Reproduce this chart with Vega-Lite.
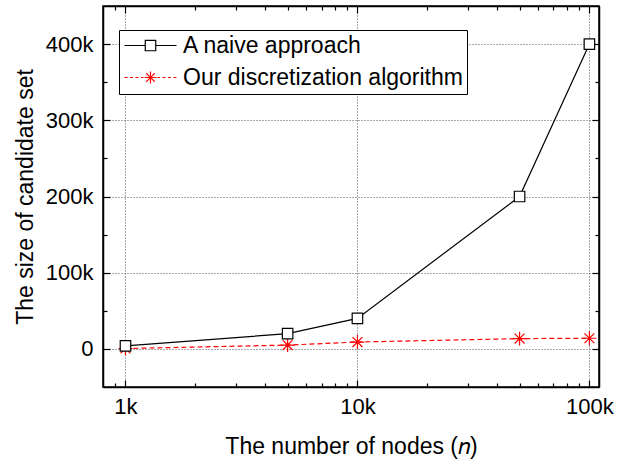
{
  "$schema": "https://vega.github.io/schema/vega-lite/v6.json",
  "width": 496,
  "height": 381,
  "autosize": {"type": "none"},
  "padding": {"left": 103, "top": 6, "right": 24, "bottom": 73},
  "config": {
    "font": "Liberation Sans",
    "view": {"stroke": "black", "strokeWidth": 1.5},
    "axis": {
      "domainColor": "black",
      "domainWidth": 1.5,
      "tickColor": "black",
      "tickWidth": 1.2,
      "labelColor": "black",
      "labelFont": "Liberation Sans",
      "labelFontSize": 22,
      "titleColor": "black",
      "titleFont": "Liberation Sans",
      "titleFontSize": 23,
      "titleFontWeight": "normal",
      "gridColor": "#555555",
      "gridDash": [1, 2],
      "gridWidth": 1
    }
  },
  "data": {
    "values": [
      {"series": "Our discretization algorithm", "n": 1000, "size": 500},
      {"series": "Our discretization algorithm", "n": 5000, "size": 5000},
      {"series": "Our discretization algorithm", "n": 10000, "size": 9000},
      {"series": "Our discretization algorithm", "n": 50000, "size": 13500},
      {"series": "Our discretization algorithm", "n": 100000, "size": 14000},
      {"series": "A naive approach", "n": 1000, "size": 4000},
      {"series": "A naive approach", "n": 5000, "size": 20000},
      {"series": "A naive approach", "n": 10000, "size": 40000},
      {"series": "A naive approach", "n": 50000, "size": 200000},
      {"series": "A naive approach", "n": 100000, "size": 400000}
    ]
  },
  "layer": [
    {
      "transform": [{"filter": "datum.series == 'A naive approach'"}],
      "mark": {"type": "line", "strokeWidth": 1.2},
      "encoding": {
        "x": {
          "field": "n",
          "type": "quantitative",
          "scale": {"type": "log", "domain": [800, 110000], "nice": false},
          "axis": {
            "orient": "bottom",
            "title": "The number of nodes (𝑛)",
            "values": [900, 1000, 2000, 3000, 4000, 5000, 6000, 7000, 8000, 9000, 10000, 20000, 30000, 40000, 50000, 60000, 70000, 80000, 90000, 100000],
            "labelExpr": "datum.value == 1000 ? '1k' : datum.value == 10000 ? '10k' : datum.value == 100000 ? '100k' : ''",
            "tickSize": {"condition": {"test": "datum.value == 1000 || datum.value == 10000 || datum.value == 100000", "value": -7}, "value": -4},
            "grid": true,
            "gridOpacity": {"condition": {"test": "datum.value == 1000 || datum.value == 10000 || datum.value == 100000", "value": 1}, "value": 0},
            "labelPadding": 16,
            "titlePadding": 15,
            "labelFlush": false,
            "labelOverlap": false
          }
        },
        "y": {
          "field": "size",
          "type": "quantitative",
          "scale": {"domain": [-50000, 450000], "nice": false, "zero": false},
          "axis": {
            "orient": "left",
            "title": "The size of candidate set",
            "values": [0, 50000, 100000, 150000, 200000, 250000, 300000, 350000, 400000],
            "labelExpr": "datum.value == 0 ? '0' : datum.value % 100000 == 0 ? (datum.value / 1000) + 'k' : ''",
            "tickSize": {"condition": {"test": "datum.value % 100000 == 0", "value": -7}, "value": -4},
            "grid": true,
            "gridOpacity": {"condition": {"test": "datum.value % 100000 == 0", "value": 1}, "value": 0},
            "labelPadding": 17,
            "titlePadding": 8,
            "labelFlush": false,
            "labelOverlap": false
          }
        },
        "color": {
          "field": "series",
          "type": "nominal",
          "scale": {"domain": ["A naive approach", "Our discretization algorithm"], "range": ["black", "red"]},
          "legend": {
            "title": null,
            "orient": "none",
            "direction": "vertical",
            "columns": 1,
            "legendX": 16,
            "legendY": 24,
            "padding": 4,
            "strokeColor": "black",
            "fillColor": "white",
            "labelFontSize": 23,
            "labelFont": "Liberation Sans",
            "labelColor": "black",
            "labelAlign": "left",
            "labelLimit": 400,
            "labelOffset": 21,
            "rowPadding": 8,
            "symbolSize": 121,
            "symbolOffset": 16,
            "symbolStrokeWidth": 1.2,
            "encode": {
              "symbols": {
                "update": {
                  "shape": {"signal": "datum.value == 'A naive approach' ? 'M-4.73,0H-0.95M0.95,0H4.73M-0.95,-0.95H0.95V0.95H-0.95Z' : 'M-4.73,0H-4.18M-3.73,0H-3.18M-2.73,0H-2.18M-1.73,0H-1.27M1.27,0H1.73M2.18,0H2.73M3.18,0H3.73M4.18,0H4.73M0,-1.09V1.09M-1.09,0H1.09M-0.77,-0.77L0.77,0.77M-0.77,0.77L0.77,-0.77'"},
                  "fill": {"value": "transparent"},
                  "strokeDash": {"value": [1, 0]}
                }
              }
            }
          }
        }
      }
    },
    {
      "transform": [{"filter": "datum.series == 'Our discretization algorithm'"}],
      "mark": {"type": "line", "strokeWidth": 1.2, "stroke": "red", "strokeDash": [5, 3]},
      "encoding": {
        "x": {
          "field": "n",
          "type": "quantitative",
          "axis": {
            "orient": "top",
            "title": null,
            "labels": false,
            "grid": false,
            "values": [900, 1000, 2000, 3000, 4000, 5000, 6000, 7000, 8000, 9000, 10000, 20000, 30000, 40000, 50000, 60000, 70000, 80000, 90000, 100000],
            "tickSize": {"condition": {"test": "datum.value == 1000 || datum.value == 10000 || datum.value == 100000", "value": -7}, "value": -4}
          }
        },
        "y": {
          "field": "size",
          "type": "quantitative",
          "axis": {
            "orient": "right",
            "title": null,
            "labels": false,
            "grid": false,
            "values": [0, 50000, 100000, 150000, 200000, 250000, 300000, 350000, 400000],
            "tickSize": {"condition": {"test": "datum.value % 100000 == 0", "value": -7}, "value": -4}
          }
        }
      }
    },
    {
      "transform": [{"filter": "datum.series == 'Our discretization algorithm'"}],
      "mark": {"type": "point", "filled": false, "opacity": 1, "stroke": "red", "strokeWidth": 1.2, "size": 110, "shape": "M0,-1.33V1.33M-1.33,0H1.33M-0.94,-0.94L0.94,0.94M-0.94,0.94L0.94,-0.94"},
      "encoding": {
        "x": {"field": "n", "type": "quantitative", "axis": null},
        "y": {"field": "size", "type": "quantitative", "axis": null}
      }
    },
    {
      "transform": [{"filter": "datum.series == 'A naive approach'"}],
      "mark": {"type": "point", "filled": true, "fill": "white", "opacity": 1, "stroke": "black", "strokeWidth": 1.2, "size": 110, "shape": "square"},
      "encoding": {
        "x": {"field": "n", "type": "quantitative", "axis": null},
        "y": {"field": "size", "type": "quantitative", "axis": null}
      }
    }
  ],
  "resolve": {"axis": {"x": "independent", "y": "independent"}}
}
